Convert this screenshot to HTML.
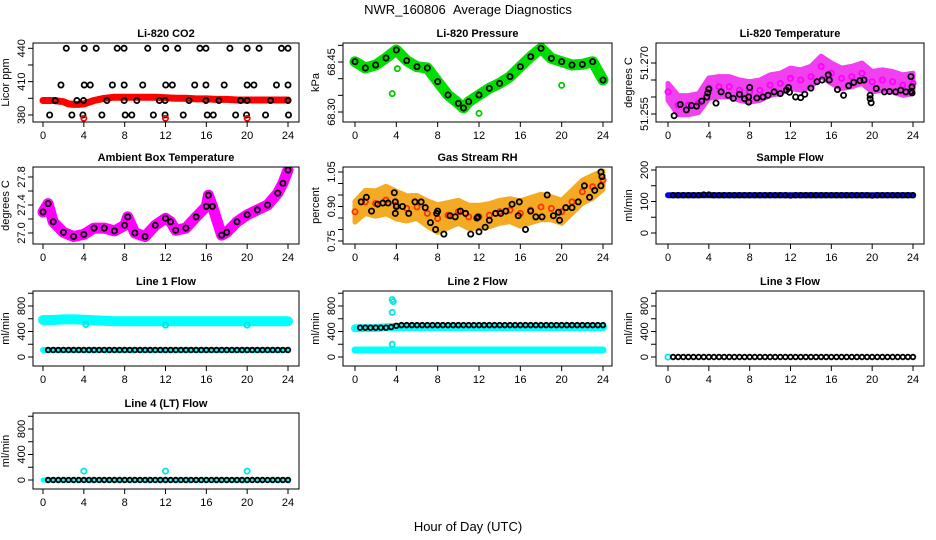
<!DOCTYPE html>
<html><head><meta charset="utf-8">
<style>
html,body{margin:0;padding:0;background:#fff;}
svg{display:block;font-family:"Liberation Sans",Arial,sans-serif;}
</style></head>
<body>
<svg id="chart" width="936" height="540" viewBox="0 0 936 540" xmlns="http://www.w3.org/2000/svg">
<rect width="936" height="540" fill="#fff"/>
<text x="468" y="14" font-size="13" text-anchor="middle">NWR_160806 &#160;Average Diagnostics</text>
<text x="468" y="531" font-size="13" text-anchor="middle">Hour of Day (UTC)</text>
</svg>
<script>
// ---- data arrays ----
const co2RedX = [0,1,2,2.5,3,3.5,4,5,6,7,8,9,10,11,12,13,14,15,16,17,18,19,20,21,22,23,24];
const co2RedY = [393,393,392,390,389.5,389.5,390,393,395,396,396,396,396,396,395.5,395,395,394.5,394.5,394,394,393.5,393.5,393.5,393.5,393.5,393.5];
const co2BlackX = [2.28,4.04,5.21,7.27,7.94,10.26,12.02,13.2,15.37,15.96,18.31,20.0,21.17,23.36,24.0,
  1.76,4.04,4.63,6.8,7.95,9.77,12.02,12.67,14.86,15.96,17.75,20.0,20.66,22.87,24.0,
  1.2,3.32,3.97,6.26,7.95,9.19,11.4,11.96,14.3,15.96,17.23,19.35,20.0,22.29,24.0,
  0.65,2.83,3.91,5.77,8.05,8.7,10.81,11.96,13.74,16.09,16.68,18.87,19.94,21.8,24.05];
const co2BlackY = [440,440,440,440,440,440,440,440,440,440,440,440,440,440,440,
  407,407,407,407,407,407,407,407,407,407,407,407,407,407,407,
  393,393,393,393,393,393,393,393,393,393,393,393,393,393,393,
  380,380,380,380,380,380,380,380,380,380,380,380,380,380,380];
const co2OutX = [4,12,20];
const co2OutY = [377,377,377];

const presX = [0,1,2,3,4,5,6,7,8,9,10,10.5,11,12,13,14,15,16,17,18,19,20,21,22,23,24];
const presY = [68.451,68.432,68.441,68.462,68.486,68.454,68.436,68.432,68.391,68.351,68.326,68.312,68.331,68.351,68.371,68.386,68.406,68.436,68.466,68.491,68.461,68.451,68.441,68.443,68.451,68.396];
const presOutX = [3.6,4.1,12,20];
const presOutY = [68.355,68.43,68.296,68.38];

const tempX = [0,1,2,3,4,5,6,7,8,9,10,11,12,13,14,15,16,17,18,19,20,21,22,23,24];
const tempY = [51.2615,51.2576,51.2576,51.2582,51.2626,51.263,51.263,51.262,51.2615,51.262,51.2635,51.264,51.2655,51.265,51.266,51.269,51.267,51.2655,51.266,51.267,51.2645,51.265,51.2645,51.2635,51.264];
const tempSpread = [0.0025,0.0028,0.0028,0.0028,0.003,0.003,0.003,0.003,0.003,0.003,0.003,0.003,0.003,0.003,0.003,0.003,0.003,0.003,0.003,0.003,0.003,0.003,0.003,0.003,0.003];
const tempBlackX = [0.6,1.2,1.8,2.3,2.8,3.3,3.8,3.9,4.0,4.7,5.2,5.9,6.4,7.0,7.5,7.9,7.9,8.0,8.7,9.3,9.8,10.4,11.0,11.6,11.8,11.9,12.5,13.0,13.4,14.0,14.6,15.1,15.7,15.8,16.6,17.2,17.7,18.2,18.8,19.2,19.8,19.8,19.9,20.4,21.2,21.7,22.3,22.8,23.3,23.8,23.9,23.9,23.8];
const tempBlackY = [51.2545,51.2578,51.2562,51.2575,51.2573,51.2588,51.26,51.2612,51.2623,51.2582,51.2615,51.2605,51.2596,51.2608,51.2595,51.2585,51.26,51.2628,51.2597,51.26,51.2605,51.2615,51.261,51.262,51.2628,51.2614,51.26,51.2598,51.2608,51.2626,51.2645,51.265,51.2665,51.265,51.2622,51.2605,51.2633,51.2643,51.2648,51.265,51.2605,51.2595,51.2583,51.2625,51.2615,51.2616,51.2615,51.262,51.2615,51.2617,51.2612,51.263,51.266];

const ambX = [0,0.5,1,2,3,4,5,6,7,8,8.3,9,10,11,12,12.5,13,14,15,16,16.2,16.6,17.5,18,19,20,21,22,23,23.5,24];
const ambY = [27.30,27.42,27.16,27.01,26.95,26.98,27.07,27.07,27.03,27.11,27.23,27.0,26.95,27.11,27.21,27.16,27.04,27.07,27.23,27.38,27.54,27.38,26.97,27.01,27.16,27.26,27.33,27.40,27.57,27.71,27.90];

const rhX = [0,1,2,3,4,5,6,7,8,9,10,11,12,13,14,15,16,17,18,19,20,21,22,23,24];
const rhY = [0.877,0.92,0.913,0.928,0.906,0.892,0.898,0.87,0.848,0.862,0.877,0.855,0.855,0.862,0.877,0.884,0.87,0.884,0.898,0.892,0.877,0.92,0.964,0.986,1.015];
const rhSpread = [0.045,0.05,0.055,0.06,0.06,0.055,0.05,0.055,0.06,0.055,0.05,0.05,0.05,0.05,0.05,0.05,0.055,0.055,0.055,0.05,0.05,0.05,0.05,0.05,0.04];
const rhBlackX = [0.6,1.1,1.6,2.2,2.7,3.2,3.8,3.9,4.0,3.9,4.6,5.2,5.8,6.4,6.8,7.3,7.8,7.9,8.0,8.6,9.2,9.7,10.2,10.7,11.2,11.8,11.9,12.0,12.6,13.0,13.6,14.1,14.6,15.2,15.8,15.9,16.5,17.0,17.5,18.1,18.6,19.2,19.7,19.8,20.4,21.0,21.6,22.2,22.7,23.2,23.8,23.9,23.8];
const rhBlackY = [0.92,0.94,0.88,0.91,0.915,0.915,0.96,0.92,0.90,0.87,0.90,0.87,0.92,0.92,0.895,0.83,0.80,0.87,0.88,0.78,0.86,0.855,0.88,0.87,0.78,0.85,0.855,0.79,0.81,0.84,0.87,0.87,0.88,0.91,0.86,0.92,0.80,0.88,0.855,0.855,0.95,0.86,0.875,0.84,0.895,0.895,0.92,0.99,0.94,0.97,0.99,1.03,1.05];

const halfHours = [0.5,1,1.5,2,2.5,3,3.5,4,4.5,5,5.5,6,6.5,7,7.5,8,8.5,9,9.5,10,10.5,11,11.5,12,12.5,13,13.5,14,14.5,15,15.5,16,16.5,17,17.5,18,18.5,19,19.5,20,20.5,21,21.5,22,22.5,23,23.5,24];
const sampleFlow = [120,120,120,120,120,120,122,122,120,120,120,120,120,120,120,120,120,120,120,120,120,120,120,119,120,120,120,120,120,120,120,120,120,120,120,120,120,120,120,119,120,120,120,120,120,120,120,120];
const flowLineX = [0,4,8,12,16,20,24];
const sampleBlue = [120,120,120,120,120,120,120];

const line1CyanX = [0,1,2,3,4,5,6,7,8,10,12,14,16,18,20,22,24];
const line1CyanY = [580,580,590,590,585,575,570,560,560,560,560,560,560,560,560,560,560];
const line1Low = [110,110,110,110,110,110,110];
const line1Black = [110,110,110,110,110,110,110,110,110,110,110,110,110,110,110,110,110,110,110,110,110,110,110,110,110,110,110,110,110,110,110,110,110,110,110,110,110,110,110,110,110,110,110,110,110,110,110,110];
const line1DipX = [4.2,12,20];
const line1DipY = [510,500,500];

const line2CyanX = [0,2,3.5,4,8,12,16,20,24];
const line2CyanY = [450,455,470,470,470,470,470,470,470];
const line2Low = [110,110,110,110,110,110,110];
const line2Black = [460,460,460,460,460,460,470,490,500,500,500,500,500,500,500,500,500,500,500,500,500,500,500,500,500,500,500,500,500,500,500,500,500,500,500,500,500,500,500,500,500,500,500,500,500,500,500,500];
const line2OutX = [3.6,3.7,3.6,3.6];
const line2OutY = [900,870,700,200];

const line3Black = [0,0,0,0,0,0,0,0,0,0,0,0,0,0,0,0,0,0,0,0,0,0,0,0,0,0,0,0,0,0,0,0,0,0,0,0,0,0,0,0,0,0,0,0,0,0,0,0];
const line4Black = [0,0,0,0,0,0,0,0,0,0,0,0,0,0,0,0,0,0,0,0,0,0,0,0,0,0,0,0,0,0,0,0,0,0,0,0,0,0,0,0,0,0,0,0,0,0,0,0];
const line4Cyan = [0,0,0,0,0,0,0];
const line4OutX = [4,12,20];
const line4OutY = [140,140,140];

const xTicks = [0,4,8,12,16,20,24];

// ---- drawing helpers ----
const svg = document.getElementById('chart');
const NS = 'http://www.w3.org/2000/svg';
function mk(tag, attrs, parent) {
  const e = document.createElementNS(NS, tag);
  for (const k in attrs) e.setAttribute(k, attrs[k]);
  (parent || svg).appendChild(e);
  return e;
}
const cols = [
  {left:33, right:299, x0:43, x24:288},
  {left:343, right:612, x0:355, x24:603},
  {left:656, right:924, x0:668, x24:913}
];
const rows = [{top:43,bottom:122},{top:167,bottom:244},{top:291,bottom:366},{top:413,bottom:489}];

function makePanel(name, title, ylab, col, row, v1, p1, v2, p2, ticks, labels, showX) {
  const c = cols[col], r = rows[row];
  const g = mk('g', {});
  
  
  const sx = v => c.x0 + (c.x24 - c.x0) * v / 24;
  const sy = v => p1 + (p2 - p1) * (v - v1) / (v2 - v1);
  const clipId = 'clip-' + name;
  const cp = mk('clipPath', {id: clipId}, g);
  mk('rect', {x:c.left, y:r.top, width:c.right-c.left, height:r.bottom-r.top}, cp);
  const plot = mk('g', {'clip-path':'url(#' + clipId + ')'}, g);
  
  
  const box = mk('rect', {x:c.left, y:r.top, width:c.right-c.left, height:r.bottom-r.top, fill:'none', stroke:'#000', 'stroke-width':1}, g);
  
  
  const t = mk('text', {x:(c.left+c.right)/2, y:r.top-6, 'font-size':11, 'font-weight':'bold', 'text-anchor':'middle'}, g);
  t.textContent = title;
  
  
  const yl = mk('text', {x:0, y:0, 'font-size':11, 'text-anchor':'middle', transform:'translate(' + (c.left-24) + ',' + ((r.top+r.bottom)/2) + ') rotate(-90)'}, g);
  yl.textContent = ylab;
  
  
  const yax = mk('g', {}, g);
  
  
  const ty = ticks.map(sy);
  mk('line', {x1:c.left, x2:c.left, y1:Math.min(...ty), y2:Math.max(...ty), stroke:'#000'}, yax);
  ticks.forEach((tv, i) => {
    const y = sy(tv);
    mk('line', {x1:c.left-5, x2:c.left, y1:y, y2:y, stroke:'#000'}, yax);
    if (labels[i] !== '') {
      const tl = mk('text', {x:0, y:0, 'font-size':11, 'text-anchor':'middle', transform:'translate(' + (c.left-8) + ',' + y + ') rotate(-90)'}, yax);
      tl.textContent = labels[i];
      
      
    }
  });
  const xax = mk('g', {}, g);
  
  
  xTicks.forEach(tv => {
    const x = sx(tv);
    mk('line', {x1:x, x2:x, y1:r.bottom, y2:r.bottom+5, stroke:'#000'}, xax);
    if (showX) {
      const tl = mk('text', {x:x, y:r.bottom+17, 'font-size':11, 'text-anchor':'middle'}, xax);
      tl.textContent = String(tv);
      
      
    }
  });
  return {plot, sx, sy};
}
function band(p, xs, ys, color, w, nm) {
  const pts = xs.map((x, i) => p.sx(x).toFixed(1) + ',' + p.sy(ys[i]).toFixed(1)).join(' ');
  const e = mk('polyline', {points:pts, fill:'none', stroke:color, 'stroke-width':w, 'stroke-linejoin':'round', 'stroke-linecap':'round'}, p.plot);
  
  
}
function cloud(p, xs, ys, sp, color, nm) {
  const up = xs.map((x, i) => p.sx(x).toFixed(1) + ',' + p.sy(ys[i] + sp[i]).toFixed(1));
  const lo = xs.map((x, i) => p.sx(x).toFixed(1) + ',' + p.sy(ys[i] - sp[i]).toFixed(1)).reverse();
  const e = mk('polygon', {points:up.concat(lo).join(' '), fill:color, stroke:color, 'stroke-width':5, 'stroke-linejoin':'round'}, p.plot);
  
  
}
function pts(p, xs, ys, color, nm, r) {
  const g = mk('g', {}, p.plot);
  
  
  xs.forEach((x, i) => {
    const c = mk('circle', {cx:p.sx(x), cy:p.sy(ys[i]), r:r || 2.6, fill:'none', stroke:color, 'stroke-width':1.8}, g);
    
    
  });
}

let p = makePanel('co2', 'Li-820 CO2', 'Licor ppm', 0, 0, 380, 115, 440, 48.3, [380,395,410,425,440], ['380','','410','','440'], true);
band(p, co2RedX, co2RedY, '#ff0000', 7, 'co2-red-series');
pts(p, co2BlackX, co2BlackY, '#000', 'co2-black-series');
pts(p, co2OutX, co2OutY, '#ff0000', 'co2-red-outliers');

p = makePanel('pressure', 'Li-820 Pressure', 'kPa', 1, 0, 68.30, 112, 68.45, 62, [68.30,68.35,68.40,68.45,68.50], ['68.30','','','68.45',''], true);
band(p, presX, presY, '#00dd00', 11, 'pressure-green-series');
pts(p, presX, presY, '#000', 'pressure-black-series');
pts(p, presOutX, presOutY, '#00cc00', 'pressure-green-outliers');

p = makePanel('li820-temp', 'Li-820 Temperature', 'degrees C', 2, 0, 51.255, 114, 51.270, 63, [51.255,51.260,51.265,51.270], ['51.255','','','51.270'], true);
cloud(p, tempX, tempY, tempSpread, '#f040f0', 'temp-magenta-cloud');
pts(p, tempX, tempY, '#ff00ff', 'temp-magenta-series');
pts(p, tempBlackX, tempBlackY, '#000', 'temp-black-series');

p = makePanel('ambient', 'Ambient Box Temperature', 'degrees C', 0, 1, 27.0, 233, 27.8, 177, [27.0,27.2,27.4,27.6,27.8], ['27.0','','27.4','','27.8'], true);
band(p, ambX, ambY, '#ff00ff', 11, 'ambient-magenta-series');
pts(p, ambX, ambY, '#000', 'ambient-black-series');

p = makePanel('rh', 'Gas Stream RH', 'percent', 1, 1, 0.75, 241, 1.05, 172, [0.75,0.80,0.85,0.90,0.95,1.00,1.05], ['0.75','','','0.90','','','1.05'], true);
cloud(p, rhX, rhY, rhSpread, '#f4aa22', 'rh-orange-cloud');
pts(p, rhX, rhY, '#ff3300', 'rh-red-series');
pts(p, rhBlackX, rhBlackY, '#000', 'rh-black-series');

p = makePanel('sample-flow', 'Sample Flow', 'ml/min', 2, 1, 0, 233, 200, 170, [0,50,100,150,200], ['0','','100','','200'], true);
band(p, flowLineX, sampleBlue, '#0000ff', 6, 'sample-blue-series');
pts(p, halfHours, sampleFlow, '#000', 'sample-black-series', 2.3);

const flowTicks = [0,200,400,600,800,1000];
const flowLabels = ['0','','400','','800',''];
p = makePanel('line1', 'Line 1 Flow', 'ml/min', 0, 2, 0, 357, 800, 306, flowTicks, flowLabels, true);
band(p, line1CyanX, line1CyanY, '#00ffff', 10, 'line1-cyan-series');
band(p, flowLineX, line1Low, '#00ffff', 6, 'line1-cyan-low-series');
pts(p, line1DipX, line1DipY, '#00e5e5', 'line1-cyan-dips');
pts(p, halfHours, line1Black, '#000', 'line1-black-series', 2.3);

p = makePanel('line2', 'Line 2 Flow', 'ml/min', 1, 2, 0, 357, 800, 306, flowTicks, flowLabels, true);
band(p, line2CyanX, line2CyanY, '#00ffff', 8, 'line2-cyan-series');
band(p, flowLineX, line2Low, '#00ffff', 7, 'line2-cyan-low-series');
pts(p, line2OutX, line2OutY, '#00e5e5', 'line2-cyan-outliers');
pts(p, halfHours, line2Black, '#000', 'line2-black-series', 2.3);

p = makePanel('line3', 'Line 3 Flow', 'ml/min', 2, 2, 0, 357, 800, 306, flowTicks, flowLabels, true);
pts(p, [0], [0], '#00e5e5', 'line3-cyan-series');
pts(p, halfHours, line3Black, '#000', 'line3-black-series', 2.3);

p = makePanel('line4', 'Line 4 (LT) Flow', 'ml/min', 0, 3, 0, 480, 800, 429, flowTicks, flowLabels, true);
band(p, flowLineX, line4Cyan, '#00ffff', 5, 'line4-cyan-series');
pts(p, line4OutX, line4OutY, '#00e5e5', 'line4-cyan-outliers');
pts(p, halfHours, line4Black, '#000', 'line4-black-series', 2.3);
</script>
</body></html>
